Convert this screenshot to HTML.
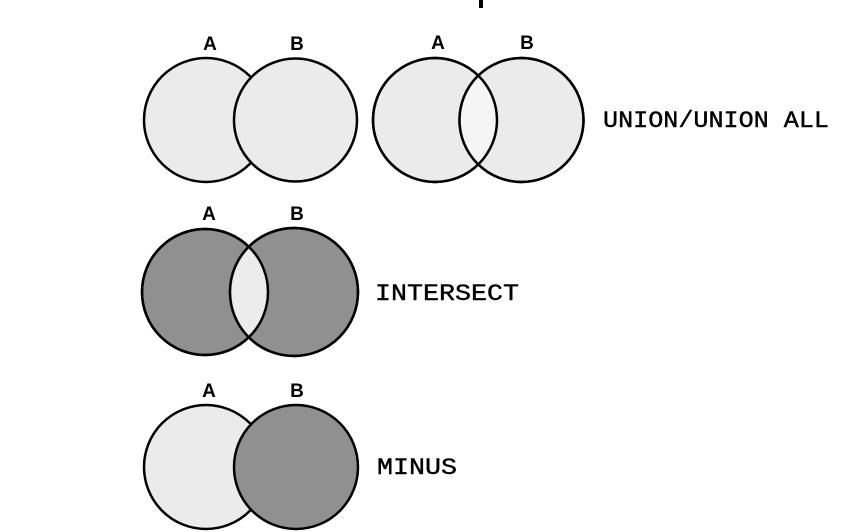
<!DOCTYPE html>
<html><head><meta charset="utf-8"><style>html,body{margin:0;padding:0;background:#fff}svg{display:block}</style></head>
<body>
<svg width="845" height="532" viewBox="0 0 845 532" xmlns="http://www.w3.org/2000/svg">
<defs>
<clipPath id="c1"><circle cx="435" cy="120" r="62"/></clipPath>
<clipPath id="c2"><circle cx="205" cy="292" r="63"/></clipPath>
</defs>
<rect x="479" y="0" width="4" height="8" fill="#000"/>
<g stroke="#000" stroke-width="2.5">
<!-- row1 left -->
<circle cx="206" cy="120" r="62" fill="#ebebeb"/>
<circle cx="295.5" cy="120" r="61.5" fill="#ebebeb"/>
<!-- row1 right -->
<circle cx="435" cy="120" r="62" fill="#ebebeb"/>
<circle cx="521.5" cy="120" r="62" fill="#ebebeb"/>
<circle cx="521.5" cy="120" r="62" fill="#f5f5f5" stroke="none" clip-path="url(#c1)"/>
<circle cx="435" cy="120" r="62" fill="none"/>
<circle cx="521.5" cy="120" r="62" fill="none"/>
<!-- row2 -->
<circle cx="205" cy="292" r="63" fill="#909090"/>
<circle cx="294" cy="292" r="64" fill="#909090"/>
<circle cx="294" cy="292" r="64" fill="#ececec" stroke="none" clip-path="url(#c2)"/>
<circle cx="205" cy="292" r="63" fill="none"/>
<circle cx="294" cy="292" r="64" fill="none"/>
<!-- row3 -->
<circle cx="206" cy="467" r="62" fill="#ebebeb"/>
<circle cx="296" cy="467" r="62" fill="#909090"/>
</g>
<g font-family="Liberation Sans, sans-serif" font-weight="bold" font-size="19" text-anchor="middle" fill="#000">
<text x="210" y="50">A</text><text x="297" y="50">B</text>
<text x="438" y="49">A</text><text x="527" y="49">B</text>
<text x="209" y="220">A</text><text x="297" y="220">B</text>
<text x="209" y="397">A</text><text x="297" y="397">B</text>
</g>
<g font-family="Liberation Mono, monospace" font-size="23" fill="#000" stroke="#000" stroke-width="0.4">
<text x="603" y="127" textLength="226" lengthAdjust="spacingAndGlyphs">UNION/UNION ALL</text>
<text x="375" y="300" textLength="144" lengthAdjust="spacingAndGlyphs">INTERSECT</text>
<text x="377" y="474" textLength="80" lengthAdjust="spacingAndGlyphs">MINUS</text>
</g>
</svg>
</body></html>
